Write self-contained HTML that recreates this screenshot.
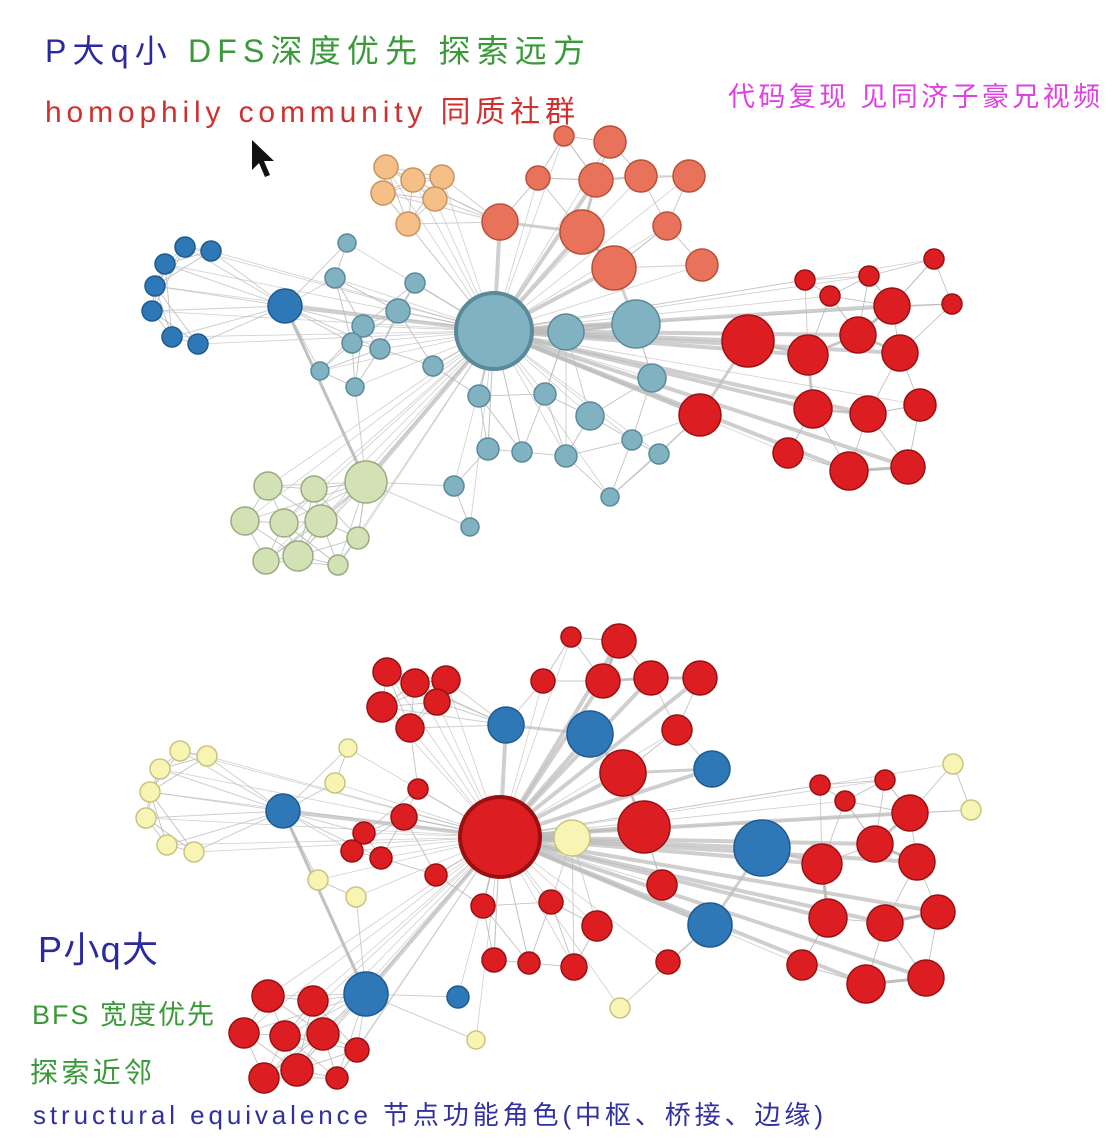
<!DOCTYPE html>
<html><head><meta charset="utf-8"><style>
html,body{margin:0;padding:0;background:#fff;width:1114px;height:1140px;overflow:hidden}
svg{display:block}
.t{font-family:"Liberation Sans","Noto Sans CJK SC",sans-serif}
</style></head><body>
<svg id="chart" width="1114" height="1140" viewBox="0 0 1114 1140" xmlns="http://www.w3.org/2000/svg">
<g id="edges-top"></g>
<g id="nodes-top"></g>
<g id="edges-bot"></g>
<g id="nodes-bot"></g>
<text class="t" x="45" y="62" font-size="32" fill="#2a2aa0" textLength="540" lengthAdjust="spacing">P大q小  <tspan fill="#3a9a3a">DFS深度优先  探索远方</tspan></text>
<text class="t" x="45" y="122" font-size="30" fill="#d03030" textLength="530" lengthAdjust="spacing">homophily  community 同质社群</text>
<text class="t" x="728" y="106" font-size="27" fill="#e040e0" textLength="372" lengthAdjust="spacing">代码复现  见同济子豪兄视频</text>
<text class="t" x="38" y="962" font-size="36" fill="#2a2aa0" textLength="120" lengthAdjust="spacing">P小q大</text>
<text class="t" x="32" y="1024" font-size="27" fill="#3a9a3a" textLength="182" lengthAdjust="spacing">BFS 宽度优先</text>
<text class="t" x="30" y="1082" font-size="28" fill="#3a9a3a" textLength="122" lengthAdjust="spacing">探索近邻</text>
<text class="t" x="33" y="1124" font-size="26" fill="#3030a0" textLength="790" lengthAdjust="spacing">structural equivalence 节点功能角色(中枢、桥接、边缘)</text>
<polygon points="252,140 252,170 259,163 265,177 270,175 264,161 274,161" fill="#111"/>
</svg>
<script>
const colors={b:"#2f78b8",o:"#f5c088",s:"#e8735a",t:"#80b2c2",g:"#d2e2b4",r:"#dc1e22",y:"#f8f4b4"};
const strokes={b:"#1f5a90",o:"#c9935c",s:"#b8503a",t:"#5a8a9a",g:"#9aaa80",r:"#9a1010",y:"#c8c480"};
// top graph nodes: [x, y, radius, group]
const topNodes=[
[185,247,10,"b"],[211,251,10,"b"],[165,264,10,"b"],[155,286,10,"b"],[152,311,10,"b"],[172,337,10,"b"],[198,344,10,"b"],[285,306,17,"b"],
[386,167,12,"o"],[413,180,12,"o"],[442,177,12,"o"],[383,193,12,"o"],[435,199,12,"o"],[408,224,12,"o"],
[564,136,10,"s"],[610,142,16,"s"],[538,178,12,"s"],[596,180,17,"s"],[641,176,16,"s"],[689,176,16,"s"],[500,222,18,"s"],[582,232,22,"s"],[667,226,14,"s"],[614,268,22,"s"],[702,265,16,"s"],
[494,331,38,"t"],[566,332,18,"t"],[636,324,24,"t"],[347,243,9,"t"],[335,278,10,"t"],[415,283,10,"t"],[398,311,12,"t"],[363,326,11,"t"],[352,343,10,"t"],[380,349,10,"t"],[320,371,9,"t"],[355,387,9,"t"],[433,366,10,"t"],[479,396,11,"t"],[545,394,11,"t"],[590,416,14,"t"],[652,378,14,"t"],[632,440,10,"t"],[659,454,10,"t"],[488,449,11,"t"],[522,452,10,"t"],[566,456,11,"t"],[454,486,10,"t"],[610,497,9,"t"],[470,527,9,"t"],
[366,482,21,"g"],[268,486,14,"g"],[314,489,13,"g"],[245,521,14,"g"],[284,523,14,"g"],[321,521,16,"g"],[358,538,11,"g"],[266,561,13,"g"],[298,556,15,"g"],[338,565,10,"g"],
[748,341,26,"r"],[700,415,21,"r"],[805,280,10,"r"],[830,296,10,"r"],[869,276,10,"r"],[934,259,10,"r"],[952,304,10,"r"],[892,306,18,"r"],[858,335,18,"r"],[808,355,20,"r"],[900,353,18,"r"],[813,409,19,"r"],[868,414,18,"r"],[920,405,16,"r"],[788,453,15,"r"],[849,471,19,"r"],[908,467,17,"r"]
];
// bottom graph nodes: [x, y, radius, group]
const botNodes=[
[180,751,10,"y"],[207,756,10,"y"],[160,769,10,"y"],[150,792,10,"y"],[146,818,10,"y"],[167,845,10,"y"],[194,852,10,"y"],[348,748,9,"y"],[335,783,10,"y"],[318,880,10,"y"],[356,897,10,"y"],[572,838,18,"y"],[953,764,10,"y"],[971,810,10,"y"],[476,1040,9,"y"],[620,1008,10,"y"],
[283,811,17,"b"],[506,725,18,"b"],[590,734,23,"b"],[712,769,18,"b"],[762,848,28,"b"],[710,925,22,"b"],[366,994,22,"b"],[458,997,11,"b"],
[500,837,40,"r"],[387,672,14,"r"],[415,683,14,"r"],[446,680,14,"r"],[382,707,15,"r"],[437,702,13,"r"],[410,728,14,"r"],[571,637,10,"r"],[619,641,17,"r"],[543,681,12,"r"],[603,681,17,"r"],[651,678,17,"r"],[700,678,17,"r"],[677,730,15,"r"],[623,773,23,"r"],[644,827,26,"r"],[662,885,15,"r"],[551,902,12,"r"],[597,926,15,"r"],[483,906,12,"r"],[494,960,12,"r"],[529,963,11,"r"],[574,967,13,"r"],[668,962,12,"r"],[404,817,13,"r"],[418,789,10,"r"],[364,833,11,"r"],[352,851,11,"r"],[381,858,11,"r"],[436,875,11,"r"],[820,785,10,"r"],[845,801,10,"r"],[885,780,10,"r"],[910,813,18,"r"],[875,844,18,"r"],[822,864,20,"r"],[917,862,18,"r"],[828,918,19,"r"],[885,923,18,"r"],[938,912,17,"r"],[802,965,15,"r"],[866,984,19,"r"],[926,978,18,"r"],[268,996,16,"r"],[313,1001,15,"r"],[244,1033,15,"r"],[285,1036,15,"r"],[323,1034,16,"r"],[357,1050,12,"r"],[264,1078,15,"r"],[297,1070,16,"r"],[337,1078,11,"r"]
];
const NS="http://www.w3.org/2000/svg";
function draw(nodes,eg,ng){
  const hubs=nodes.filter(n=>n[2]>=17);
  const main=nodes.reduce((a,b)=>b[2]>a[2]?b:a);
  function line(a,b,w){
    const l=document.createElementNS(NS,"line");
    l.setAttribute("x1",a[0]);l.setAttribute("y1",a[1]);l.setAttribute("x2",b[0]);l.setAttribute("y2",b[1]);
    l.setAttribute("stroke","#bbb");l.setAttribute("stroke-width",w);l.setAttribute("stroke-opacity","0.7");
    
    
    eg.appendChild(l);
  }
  nodes.forEach(n=>{
    let best=null,bd=1e9;
    hubs.forEach(h=>{if(h===n)return;const d=Math.hypot(h[0]-n[0],h[1]-n[1]);if(d<bd){bd=d;best=h;}});
    if(best) line(n,best,n[2]>=17?3:1);
    if(n!==main && n!==best) line(n,main,n[2]>=17?4:0.8);
    nodes.forEach(m=>{if(m!==n&&m[3]===n[3]&&Math.hypot(m[0]-n[0],m[1]-n[1])<75) line(n,m,0.8);});
  });
  nodes.forEach(n=>{
    const c=document.createElementNS(NS,"circle");
    c.setAttribute("cx",n[0]);c.setAttribute("cy",n[1]);c.setAttribute("r",n[2]);
    c.setAttribute("fill",colors[n[3]]);c.setAttribute("stroke",strokes[n[3]]);
    c.setAttribute("stroke-width",n[2]>=30?4:1.5);
    
    
    ng.appendChild(c);
  });
}
draw(topNodes,document.getElementById("edges-top"),document.getElementById("nodes-top"));
draw(botNodes,document.getElementById("edges-bot"),document.getElementById("nodes-bot"));
</script>
</body></html>
